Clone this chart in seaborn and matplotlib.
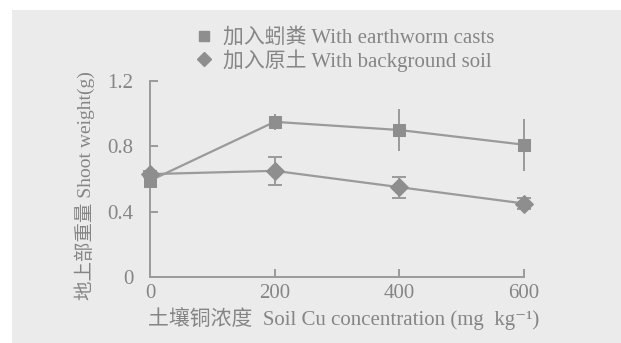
import matplotlib
matplotlib.use("Agg")
import matplotlib.pyplot as plt
import seaborn as sns
import pandas as pd
from matplotlib.lines import Line2D
from matplotlib.patches import Rectangle

# data
cu = [0, 200, 400, 600]
casts = [0.59, 0.95, 0.90, 0.81]
casts_err = [0.03, 0.05, 0.13, 0.16]
soil = [0.63, 0.65, 0.55, 0.45]
soil_err = [0.02, 0.085, 0.065, 0.035]
series_names = ["加入蚓粪 With earthworm casts", "加入原土 With background soil"]
xticks = [0, 200, 400, 600]
yticks = [0, 0.4, 0.8, 1.2]
yticklabels = ["0", "0.4", "0.8", "1.2"]

sns.set_theme(style="white")
fam = ["Liberation Serif", "Noto Sans CJK SC", "DejaVu Sans"]
plt.rcParams["font.family"] = fam

bg = "#ebebeb"
line_c = "#9a9a9a"
mark_c = "#8e8e8e"
text_c = "#858585"

fig = plt.figure(figsize=(6.21, 3.43), dpi=100)
fig.patch.set_facecolor("white")
fig.patches.append(Rectangle((12 / 621, 0), 1, 1 - 10 / 343, transform=fig.transFigure,
                             facecolor=bg, edgecolor="none", zorder=-10))

ax = fig.add_axes([150 / 621, 1 - 277 / 343, (524 - 150) / 621, (277 - 81) / 343])
ax.set_facecolor("none")

df = pd.DataFrame({
    "cu": cu * 2,
    "w": casts + soil,
    "grp": [series_names[0]] * 4 + [series_names[1]] * 4,
})
sns.lineplot(data=df, x="cu", y="w", hue="grp", style="grp",
             palette=[line_c, line_c], markers=["s", "D"], dashes=False,
             markersize=9, linewidth=1.6, markeredgecolor=mark_c,
             legend=False, ax=ax, zorder=3)
for line in ax.lines:
    line.set_markerfacecolor(mark_c)
    line.set_clip_on(False)

ax.errorbar(cu, casts, yerr=casts_err, fmt="none", ecolor=line_c, elinewidth=1.4,
            capsize=0, clip_on=False, zorder=2)
ax.errorbar(cu, soil, yerr=soil_err, fmt="none", ecolor=line_c, elinewidth=1.4,
            capsize=5, capthick=1.4, clip_on=False, zorder=2)

ax.set_xlim(0, 600)
ax.set_ylim(0, 1.2)
ax.set_xticks(xticks)
ax.set_xticklabels([str(v) for v in xticks])
ax.set_yticks(yticks)
ax.set_yticklabels(yticklabels)
for s in ["top", "right"]:
    ax.spines[s].set_visible(False)
for s in ["left", "bottom"]:
    ax.spines[s].set_color(line_c)
    ax.spines[s].set_linewidth(1.4)
ax.tick_params(axis="both", direction="in", length=6, width=1.4, color=line_c,
               labelcolor=text_c, labelsize=15, left=True, bottom=True)
ax.tick_params(axis="x", pad=5)
ax.tick_params(axis="y", pad=12)

ax.set_xlabel("土壤铜浓度  Soil Cu concentration (mg  kg\u207b\u00b9)", fontsize=15,
              color=text_c)
ax.xaxis.set_label_coords((344 - 150) / 374, -0.155)
ax.set_ylabel("地上部重量 Shoot weight(g)", fontsize=14, color=text_c)
ax.yaxis.set_label_coords((95 - 150) / 374, 1 - (186 - 81) / 196)

handles = [
    Line2D([], [], linestyle="none", marker="s", markersize=7, color=mark_c),
    Line2D([], [], linestyle="none", marker="D", markersize=7, color=mark_c),
]
fig.legend(handles, series_names, loc="upper left",
           bbox_to_anchor=(196 / 621, 1 - 28 / 343), frameon=False, fontsize=15,
           labelcolor=text_c, handlelength=0.8, handletextpad=0.5, labelspacing=0.05,
           borderpad=0, borderaxespad=0)

fig.savefig("out.png", dpi=100, facecolor=fig.get_facecolor())
